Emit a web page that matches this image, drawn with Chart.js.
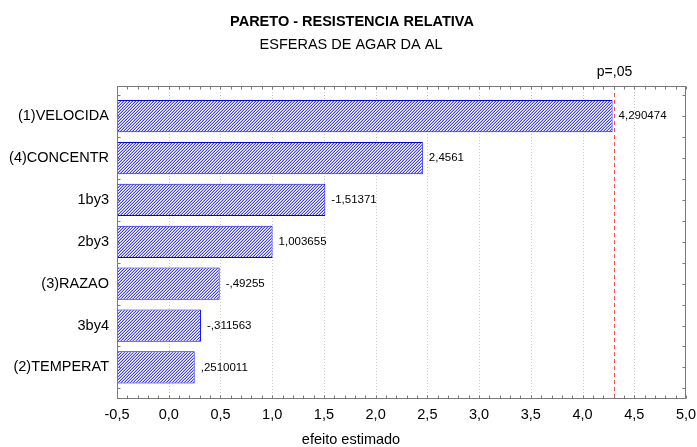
<!DOCTYPE html>
<html>
<head>
<meta charset="utf-8">
<script src="https://cdn.jsdelivr.net/npm/chart.js@4/dist/chart.umd.min.js"></script>
<style>
body{margin:0;background:#fff;}
</style>
</head>
<body>
<canvas id="myChart" width="697" height="447"></canvas>
<script>
// data
var categories = ["(1)VELOCIDA", "(4)CONCENTR", "1by3", "2by3", "(3)RAZAO", "3by4", "(2)TEMPERAT"];
var effects = [4.290474, 2.4561, -1.51371, 1.003655, -0.49255, -0.311563, 0.2510011];
var pLine = 4.303;
var pLabel = "p=,05";
var xMin = -0.5, xMax = 5.0, xStep = 0.5;
var title = "PARETO - RESISTENCIA RELATIVA";
var subtitle = "ESFERAS DE AGAR DA AL";
var xTitle = "efeito estimado";

var FONT = "'Liberation Sans', Arial, sans-serif";

function fmt(v){
    var s = String(v).replace(".", ",");
    return s.replace(/^(-?)0,/, "$1,");
}

var canvas = document.getElementById("myChart");
var ctx = canvas.getContext("2d");

function hatch(){
    var n = 3;
    var c = document.createElement("canvas");
    c.width = n; c.height = n;
    var g = c.getContext("2d");
    g.fillStyle = "#ffffff";
    g.fillRect(0, 0, n, n);
    for(var i = 0; i < n; i++){
        g.fillStyle = "#3c3cff";
        g.fillRect(i, n - 1 - i, 1, 1);
        g.fillStyle = "#b8b8ff";
        g.fillRect(i, (2 * n - 2 - i) % n, 1, 1);
    }
    return ctx.createPattern(c, "repeat");
}

function px(v){ return Math.round(v) + 0.5; }

var backPlugin = {
    id: "back",
    beforeDatasetsDraw: function(chart){
        var c = chart.ctx, a = chart.chartArea, xs = chart.scales.x;
        c.save();
        c.strokeStyle = "#c8c8c8";
        c.lineWidth = 1;
        c.setLineDash([1, 2]);
        for(var v = xMin + xStep; v < xMax - 1e-9; v += xStep){
            var x = px(xs.getPixelForValue(v));
            c.beginPath();
            c.moveTo(x, a.top);
            c.lineTo(x, a.bottom);
            c.stroke();
        }
        c.restore();
    }
};

var frontPlugin = {
    id: "front",
    afterDatasetsDraw: function(chart){
        var c = chart.ctx, a = chart.chartArea, xs = chart.scales.x, ys = chart.scales.y;
        c.save();

        // critical value line
        var lx = px(xs.getPixelForValue(pLine));
        c.lineWidth = 1;
        c.strokeStyle = "#ff4a4a";
        c.setLineDash([4, 3]);
        c.beginPath();
        c.moveTo(lx, a.top);
        c.lineTo(lx, a.bottom);
        c.stroke();
        c.setLineDash([]);

        // frame
        c.strokeStyle = "#7a7a7a";
        var L = px(a.left), R = px(a.right - 1), T = px(a.top), B = px(a.bottom);
        c.strokeRect(L, T, R - L, B - T);

        // inward ticks
        c.beginPath();
        for(var i = 0; i <= Math.round((xMax - xMin) * 10); i++){
            var x = px(xs.getPixelForValue(xMin + i / 10));
            c.moveTo(x, T); c.lineTo(x, T + 3);
            c.moveTo(x, B); c.lineTo(x, B - 3);
        }
        for(var k = -1; k <= categories.length * 2 - 1; k++){
            var y = px(ys.getPixelForValue(k / 2));
            if(y <= T || y >= B) continue;
            c.moveTo(L, y); c.lineTo(L + 3, y);
            c.moveTo(R, y); c.lineTo(R - 3, y);
        }
        c.stroke();

        // value labels
        var meta = chart.getDatasetMeta(0);
        c.fillStyle = "#000";
        c.font = "11.5px " + FONT;
        c.textAlign = "left";
        c.textBaseline = "middle";
        meta.data.forEach(function(bar, j){
            var end = xs.getPixelForValue(Math.abs(effects[j]));
            c.fillText(fmt(effects[j]), end + 6, bar.y);
        });

        // texts
        c.textAlign = "center";
        c.font = "14px " + FONT;
        c.fillText(pLabel, lx, 72);
        c.font = "bold 14.5px " + FONT;
        c.fillText(title, 352, 22);
        c.font = "14.5px " + FONT;
        c.fillText(subtitle, 351, 45);
        c.fillText(xTitle, 351, 440);
        c.restore();
    }
};

var myChart = new Chart(canvas, {
    type: "bar",
    data: {
        labels: categories,
        datasets: [{
            data: effects.map(function(v, i){ return {x: [xMin, Math.abs(v)], y: i}; }),
            backgroundColor: hatch(),
            borderColor: "#0000ff",
            borderWidth: 1,
            borderSkipped: false,
            barPercentage: 0.77,
            categoryPercentage: 1
        }]
    },
    options: {
        indexAxis: "y",
        responsive: false,
        animation: false,
        layout: { padding: { top: 86, right: 11, left: 0, bottom: 0 } },
        plugins: {
            legend: { display: false },
            tooltip: { enabled: false }
        },
        scales: {
            x: {
                type: "linear",
                min: xMin,
                max: xMax,
                offset: false,
                grid: { display: false, drawTicks: false },
                border: { display: false },
                ticks: {
                    stepSize: xStep,
                    padding: 8,
                    color: "#000",
                    font: { family: FONT, size: 14.5 },
                    maxRotation: 0,
                    callback: function(v){ return v.toFixed(1).replace(".", ","); }
                },
                afterFit: function(s){
                    s.height = 49;
                    s.paddingLeft = 0;
                    s.paddingRight = 0;
                }
            },
            y: {
                type: "linear",
                reverse: true,
                offset: false,
                min: -0.72,
                max: 6.73,
                grid: { display: false, drawTicks: false, offset: false },
                border: { display: false },
                afterBuildTicks: function(s){
                    s.ticks = categories.map(function(c, i){ return {value: i}; });
                },
                ticks: {
                    padding: 8,
                    color: "#000",
                    font: { family: FONT, size: 14.5 },
                    callback: function(v){ return categories[v]; }
                },
                afterFit: function(s){ s.width = 117; }
            }
        }
    },
    plugins: [backPlugin, frontPlugin]
});
</script>
</body>
</html>
